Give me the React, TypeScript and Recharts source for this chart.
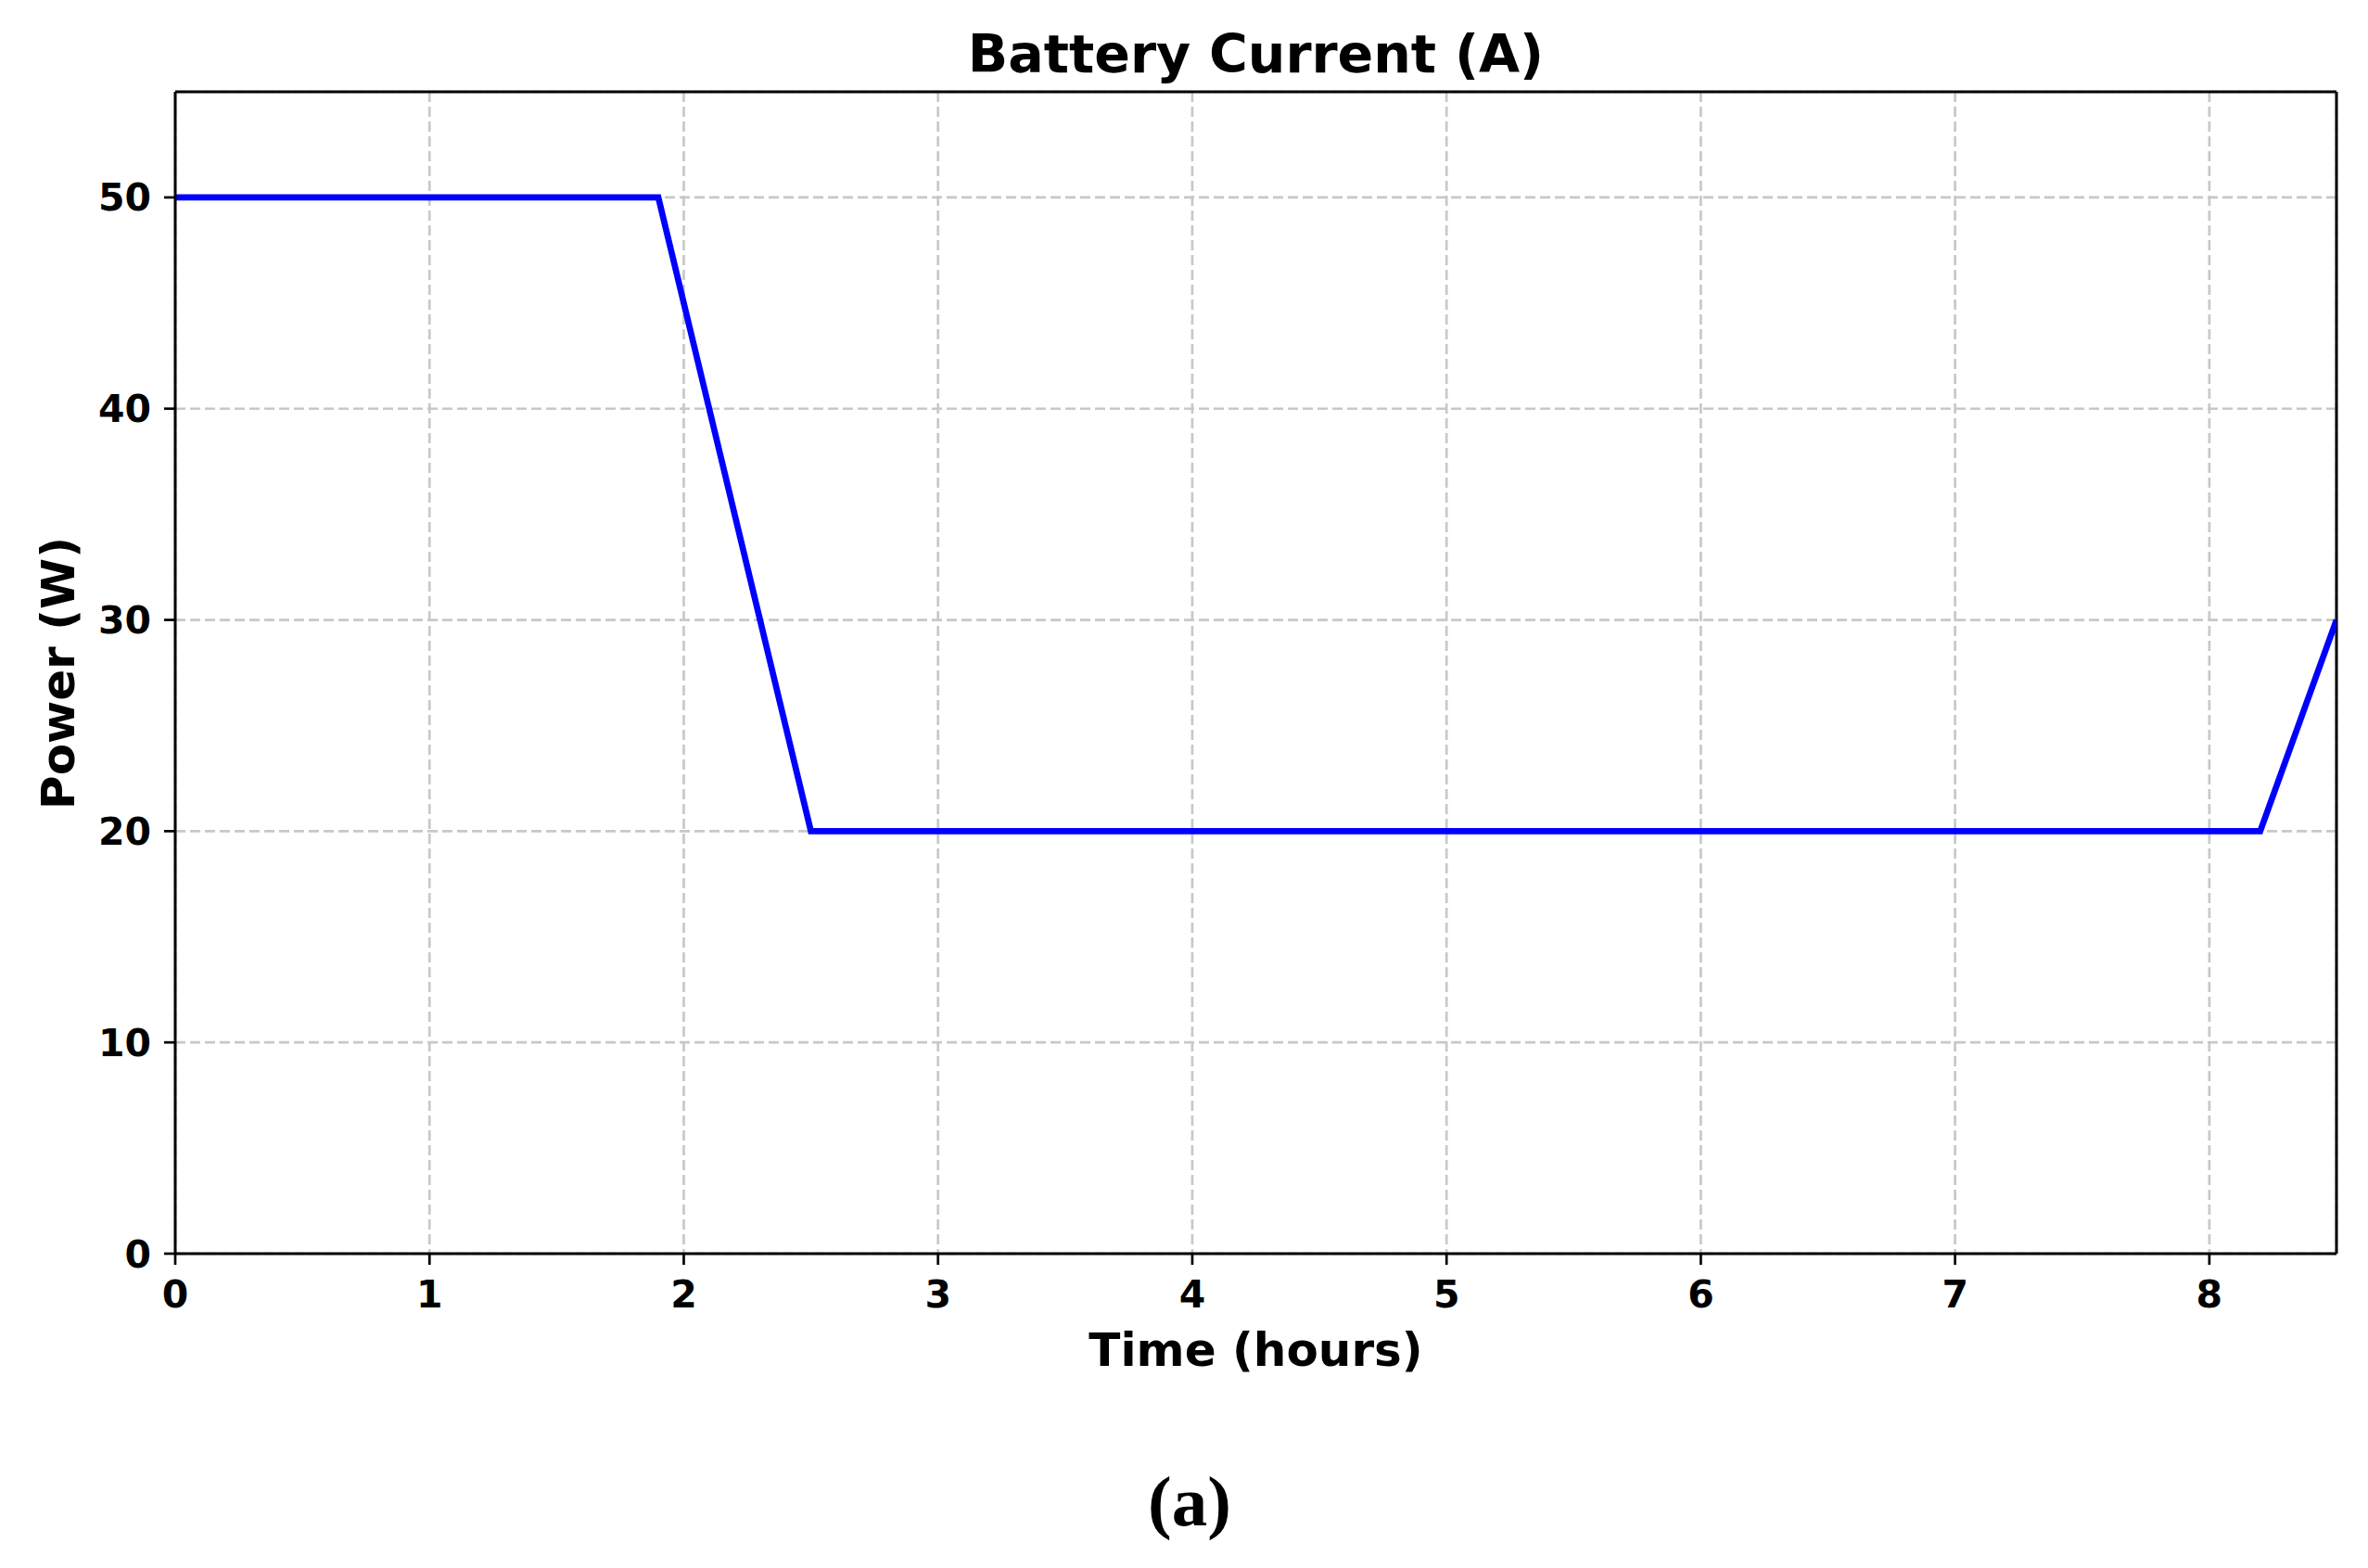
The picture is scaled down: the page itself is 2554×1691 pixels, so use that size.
import React from 'react'
import {
  LineChart,
  Line,
  XAxis,
  YAxis,
  CartesianGrid,
  ReferenceLine,
} from 'recharts'

// breakpoints of the current profile
const hours = [0, 1.9, 2.5, 8.2, 8.5]
const current = [50, 50, 20, 20, 30]

const xTicks = [0, 1, 2, 3, 4, 5, 6, 7, 8]
const yTicks = [0, 10, 20, 30, 40, 50]

const data = hours.map((h, i) => ({ hours: h, current: current[i] }))

const W = 2554
const H = 1691
const FONT = '"DejaVu Sans", sans-serif'

const tickStyle = {
  fontSize: 41,
  fontWeight: 'bold' as const,
  fill: '#000',
  fontFamily: FONT,
}

export default function App() {
  return (
    <div
      style={{
        position: 'absolute',
        left: 0,
        top: 0,
        width: W,
        height: H,
        background: '#fff',
        fontFamily: FONT,
      }}
    >
      <LineChart
        width={W}
        height={H}
        data={data}
        margin={{ top: 99, right: 34, bottom: 279, left: 89 }}
      >
        <CartesianGrid stroke="#c8c8c8" strokeWidth={2.7} strokeDasharray="11 5" />
        <XAxis
          dataKey="hours"
          type="number"
          domain={[0, 8.5]}
          ticks={xTicks}
          interval={0}
          height={60}
          tick={tickStyle}
          tickSize={12}
          tickMargin={17}
          axisLine={{ stroke: '#000', strokeWidth: 3 }}
          tickLine={{ stroke: '#000', strokeWidth: 2.7 }}
          allowDataOverflow
        />
        <YAxis
          type="number"
          domain={[0, 55]}
          ticks={yTicks}
          interval={0}
          width={100}
          tick={tickStyle}
          tickSize={12}
          tickMargin={14}
          axisLine={{ stroke: '#000', strokeWidth: 3 }}
          tickLine={{ stroke: '#000', strokeWidth: 2.7 }}
          allowDataOverflow
        />
        <ReferenceLine y={55} stroke="#000" strokeWidth={3} />
        <ReferenceLine x={8.5} stroke="#000" strokeWidth={3} />
        <Line
          type="linear"
          dataKey="current"
          stroke="#0000ff"
          strokeWidth={6.7}
          dot={false}
          activeDot={false}
          isAnimationActive={false}
        />
      </LineChart>
      <svg
        width={W}
        height={H}
        style={{ position: 'absolute', left: 0, top: 0, pointerEvents: 'none' }}
      >
        <text x={1354.5} y={78} textAnchor="middle" fontSize={57} fontWeight="bold" fontFamily={FONT}>
          Battery Current (A)
        </text>
        <text x={1354.5} y={1473} textAnchor="middle" fontSize={50} fontWeight="bold" fontFamily={FONT}>
          Time (hours)
        </text>
        <text
          x={80}
          y={726}
          transform="rotate(-90 80 726)"
          textAnchor="middle"
          fontSize={50}
          fontWeight="bold"
          fontFamily={FONT}
        >
          Power (W)
        </text>
        <text
          x={1283}
          y={1645}
          textAnchor="middle"
          fontSize={77}
          fontWeight="bold"
          fontFamily={'"Liberation Serif", serif'}
        >
          (a)
        </text>
      </svg>
    </div>
  )
}
